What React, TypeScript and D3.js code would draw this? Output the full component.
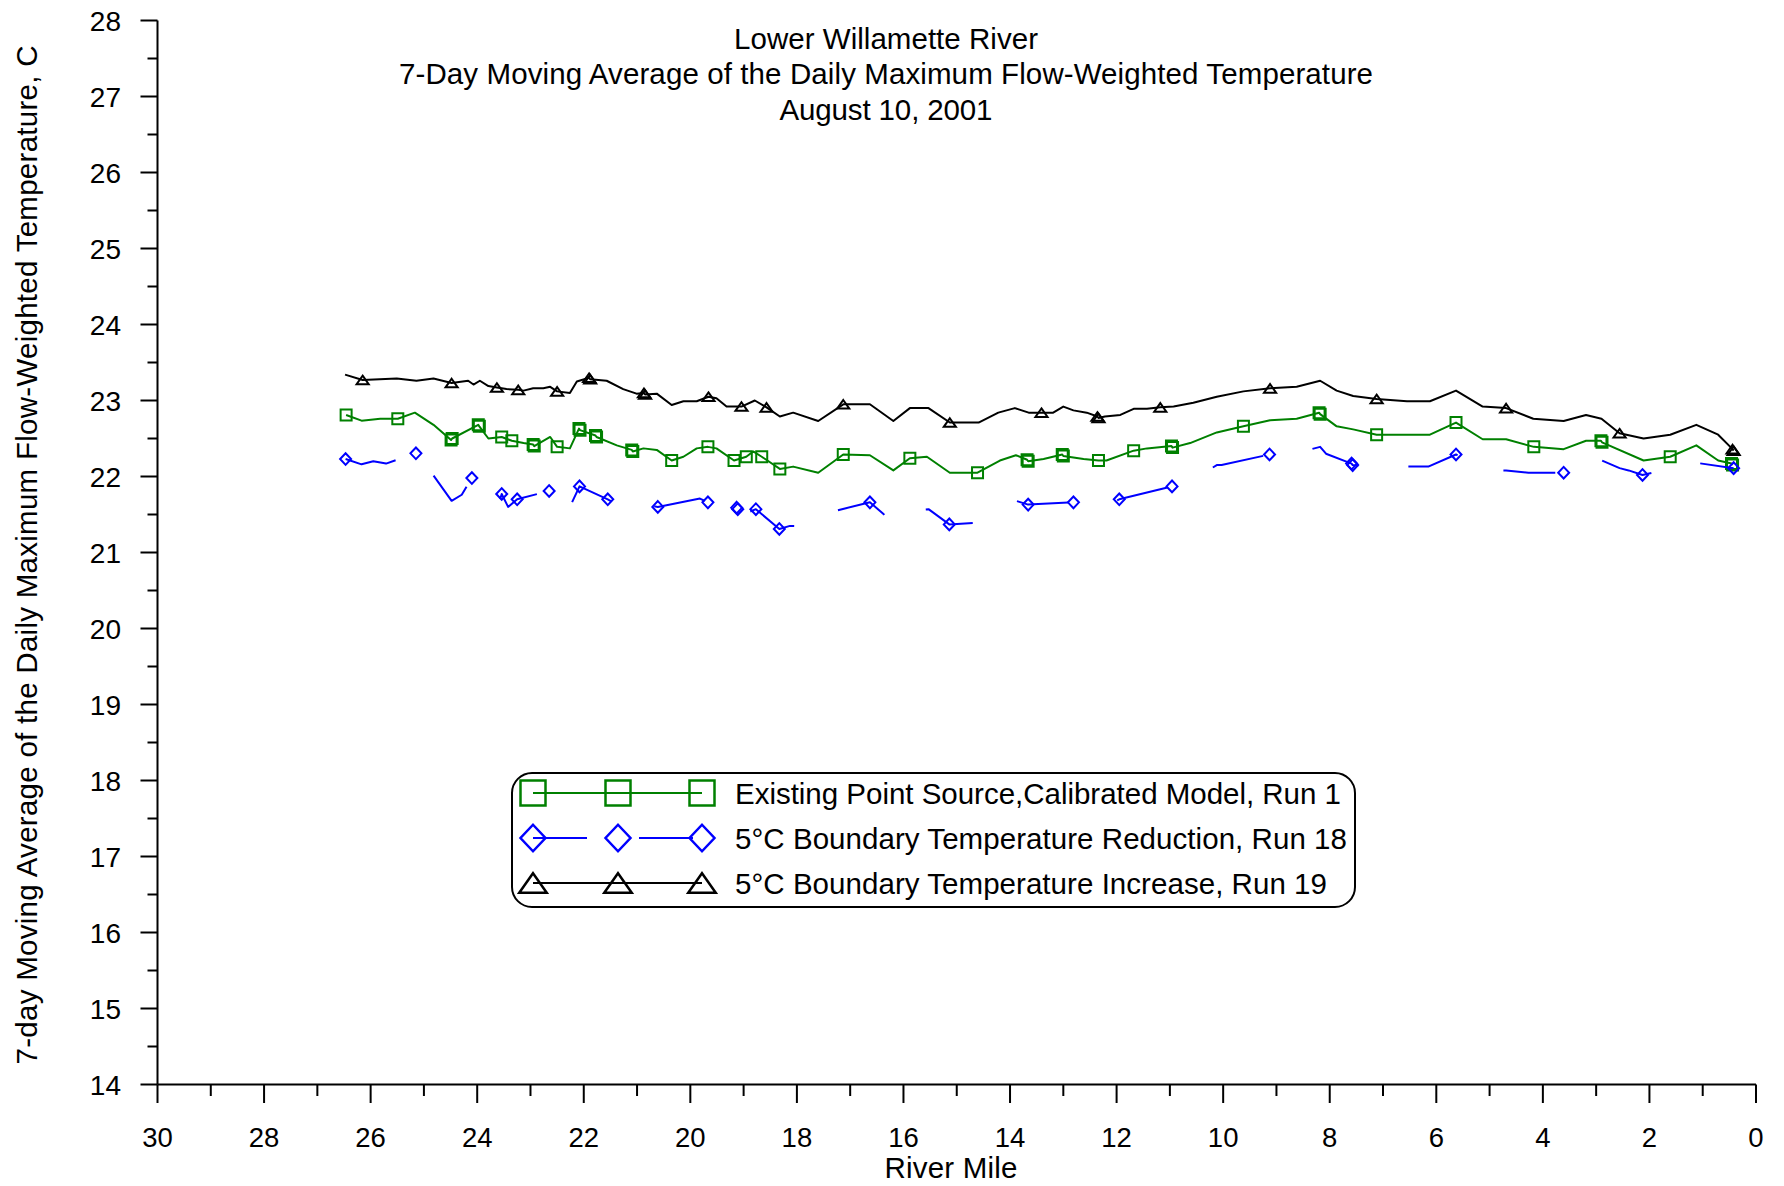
import React from 'react';
import * as d3 from 'd3';

const TITLE_LINES = [
  'Lower Willamette River',
  '7-Day Moving Average of the Daily Maximum Flow-Weighted Temperature',
  'August 10, 2001',
];
const X_LABEL = 'River Mile';
const Y_LABEL = '7-day Moving Average of the Daily Maximum Flow-Weighted Temperature, C';
const X_DOMAIN = [30, 0];
const Y_DOMAIN = [14, 28];
const X_TICKS_MAJOR = [30, 28, 26, 24, 22, 20, 18, 16, 14, 12, 10, 8, 6, 4, 2, 0];
const Y_TICKS_MAJOR = [14, 15, 16, 17, 18, 19, 20, 21, 22, 23, 24, 25, 26, 27, 28];
const LEGEND_LABELS = [
  'Existing Point Source,Calibrated Model, Run 1',
  '5°C Boundary Temperature Reduction, Run 18',
  '5°C Boundary Temperature Increase, Run 19',
];

// [river mile, temperature (C), marker shown (1) or not (0)]
const run1: [number, number, number][] = [
  [26.46, 22.81, 1], [26.17, 22.735, 0], [25.82, 22.76, 0], [25.49, 22.76, 1], [25.17, 22.84, 0],
  [24.82, 22.68, 0], [24.49, 22.48, 1], [24.47, 22.5, 1], [23.98, 22.68, 1], [23.96, 22.66, 1],
  [23.79, 22.5, 0], [23.54, 22.52, 1], [23.35, 22.47, 1], [23.13, 22.44, 0], [22.95, 22.42, 1],
  [22.93, 22.4, 1], [22.63, 22.52, 0], [22.5, 22.39, 1], [22.26, 22.37, 0], [22.09, 22.63, 1],
  [22.07, 22.61, 1], [21.78, 22.54, 1], [21.76, 22.52, 1], [21.38, 22.41, 0], [21.1, 22.35, 1],
  [21.08, 22.33, 1], [20.88, 22.37, 0], [20.63, 22.35, 0], [20.35, 22.21, 1], [20.13, 22.26, 0],
  [19.88, 22.37, 0], [19.67, 22.39, 1], [19.51, 22.37, 0], [19.18, 22.21, 1], [18.95, 22.26, 1],
  [18.82, 22.33, 0], [18.66, 22.26, 1], [18.32, 22.1, 1], [18.07, 22.13, 0], [17.6, 22.05, 0],
  [17.13, 22.29, 1], [16.63, 22.28, 0], [16.19, 22.08, 0], [15.88, 22.24, 1], [15.56, 22.26, 0],
  [15.13, 22.05, 0], [14.61, 22.05, 1], [14.19, 22.21, 0], [13.89, 22.28, 0], [13.68, 22.22, 1],
  [13.66, 22.2, 1], [13.37, 22.23, 0], [13.02, 22.29, 1], [13.0, 22.27, 1], [12.62, 22.23, 0],
  [12.34, 22.21, 1], [12.19, 22.21, 0], [11.68, 22.34, 1], [11.43, 22.37, 0], [10.97, 22.4, 1],
  [10.95, 22.38, 1], [10.62, 22.44, 0], [10.12, 22.58, 0], [9.62, 22.66, 1], [9.12, 22.74, 0],
  [8.62, 22.76, 0], [8.2, 22.84, 1], [8.18, 22.82, 1], [7.87, 22.66, 0], [7.56, 22.62, 0],
  [7.12, 22.55, 1], [6.12, 22.55, 0], [5.63, 22.71, 1], [5.13, 22.49, 0], [4.69, 22.49, 0],
  [4.17, 22.39, 1], [3.61, 22.36, 0], [3.19, 22.47, 0], [2.91, 22.47, 1], [2.89, 22.45, 1],
  [2.11, 22.21, 0], [1.61, 22.26, 1], [1.12, 22.41, 0], [0.71, 22.21, 0], [0.46, 22.17, 1],
  [0.44, 22.15, 1],
];

const run18: [number, number, number][] = [
  [26.47, 22.23, 1], [26.17, 22.16, 0], [25.95, 22.2, 0], [25.71, 22.17, 0], [25.15, 22.305, 1],
  [24.92, 22.11, 0], [24.48, 21.68, 0], [24.29, 21.76, 0], [24.1, 21.98, 1], [23.82, 21.79, 0],
  [23.79, 21.7, 0], [23.57, 21.7, 0], [23.54, 21.77, 1], [23.42, 21.6, 0], [23.25, 21.7, 1],
  [22.65, 21.81, 1], [22.5, 21.58, 0], [22.26, 21.6, 0], [22.08, 21.87, 1], [21.55, 21.7, 1],
  [21.07, 21.51, 0], [20.85, 21.63, 0], [20.61, 21.6, 1], [19.82, 21.71, 0], [19.67, 21.66, 1],
  [19.35, 21.55, 0], [19.13, 21.59, 1], [19.11, 21.57, 1], [18.94, 21.52, 0], [18.77, 21.57, 1],
  [18.33, 21.31, 1], [18.13, 21.35, 0], [17.6, 21.34, 0], [17.27, 21.55, 0], [16.63, 21.66, 1],
  [16.38, 21.51, 0], [16.19, 21.375, 0], [15.88, 21.55, 0], [15.53, 21.57, 0], [15.14, 21.37, 1],
  [14.64, 21.39, 0], [14.19, 21.58, 0], [13.89, 21.68, 0], [13.66, 21.63, 1], [12.81, 21.66, 1],
  [12.37, 21.66, 0], [12.15, 21.63, 0], [11.95, 21.7, 1], [10.96, 21.87, 1], [10.59, 21.95, 0],
  [10.12, 22.15, 0], [10.03, 22.15, 0], [9.13, 22.29, 1], [8.62, 22.31, 0], [8.18, 22.39, 0],
  [8.07, 22.3, 0], [7.59, 22.17, 1], [7.57, 22.15, 1], [7.13, 22.13, 0], [6.15, 22.13, 0],
  [5.63, 22.29, 1], [5.25, 22.13, 0], [5.13, 22.08, 0], [4.69, 22.08, 0], [4.27, 22.05, 0],
  [3.61, 22.05, 1], [3.35, 22.15, 0], [3.19, 22.21, 0], [2.89, 22.21, 0], [2.56, 22.11, 0],
  [2.39, 22.08, 0], [2.13, 22.02, 1], [1.44, 22.13, 0], [1.12, 22.18, 0], [0.42, 22.11, 1],
];

const run19: [number, number, number][] = [
  [26.48, 23.34, 0], [26.15, 23.27, 1], [25.51, 23.29, 0], [25.14, 23.26, 0], [24.82, 23.29, 0],
  [24.48, 23.23, 1], [24.17, 23.26, 0], [24.07, 23.21, 0], [23.95, 23.26, 0], [23.79, 23.19, 0],
  [23.63, 23.17, 1], [23.45, 23.15, 0], [23.23, 23.14, 1], [23.13, 23.13, 0], [22.95, 23.16, 0],
  [22.76, 23.16, 0], [22.63, 23.18, 0], [22.5, 23.12, 1], [22.26, 23.1, 0], [22.13, 23.25, 0],
  [21.9, 23.3, 1], [21.88, 23.28, 1], [21.57, 23.26, 0], [21.26, 23.15, 0], [21.01, 23.09, 0],
  [20.87, 23.1, 1], [20.85, 23.08, 1], [20.63, 23.09, 0], [20.35, 22.94, 0], [20.13, 22.99, 0],
  [19.88, 22.99, 0], [19.66, 23.05, 1], [19.51, 23.03, 0], [19.32, 22.92, 0], [19.04, 22.92, 1],
  [18.79, 23.0, 0], [18.57, 22.91, 1], [18.32, 22.79, 0], [18.07, 22.84, 0], [17.6, 22.73, 0],
  [17.13, 22.95, 1], [16.63, 22.95, 0], [16.19, 22.73, 0], [15.88, 22.9, 0], [15.53, 22.9, 0],
  [15.13, 22.71, 1], [14.59, 22.71, 0], [14.22, 22.84, 0], [13.91, 22.9, 0], [13.65, 22.84, 0],
  [13.41, 22.84, 1], [13.19, 22.84, 0], [13.0, 22.92, 0], [12.81, 22.87, 0], [12.56, 22.84, 0],
  [12.36, 22.79, 1], [12.34, 22.77, 1], [12.22, 22.79, 0], [11.93, 22.81, 0], [11.68, 22.89, 0],
  [11.43, 22.89, 0], [11.18, 22.91, 1], [10.93, 22.92, 0], [10.56, 22.97, 0], [10.12, 23.05, 0],
  [9.62, 23.12, 0], [9.12, 23.16, 1], [8.62, 23.18, 0], [8.18, 23.26, 0], [7.87, 23.13, 0],
  [7.56, 23.06, 0], [7.12, 23.02, 1], [6.55, 22.99, 0], [6.12, 22.99, 0], [5.63, 23.13, 0],
  [5.13, 22.92, 0], [4.69, 22.9, 1], [4.18, 22.76, 0], [3.61, 22.73, 0], [3.19, 22.81, 0],
  [2.9, 22.76, 0], [2.56, 22.57, 1], [2.11, 22.5, 0], [1.61, 22.55, 0], [1.12, 22.68, 0],
  [0.71, 22.55, 0], [0.44, 22.36, 1], [0.42, 22.34, 1],
];

const W = 1784;
const H = 1186;
const PLOT = { left: 157.5, right: 1756, top: 20.5, bottom: 1084.5 };
const FONT = "'Liberation Sans', Arial, Helvetica, sans-serif";

type MarkerKind = 'square' | 'diamond' | 'triangle';

function markerPath(kind: MarkerKind, s: number): string {
  if (kind === 'square') {
    return `M${-s / 2},${-s / 2}h${s}v${s}h${-s}Z`;
  }
  if (kind === 'diamond') {
    const w = s * 0.5;
    const h = s * 0.53;
    return `M0,${-h}L${w},0L0,${h}L${-w},0Z`;
  }
  const w = s * 1.1;
  const h = s * 0.78;
  return `M0,${-h / 2}L${w / 2},${h / 2}L${-w / 2},${h / 2}Z`;
}

const SERIES = [
  { data: run1, color: '#008000', marker: 'square' as MarkerKind, dash: undefined as string | undefined, label: LEGEND_LABELS[0], legendLen: 606 },
  { data: run18, color: '#0000FF', marker: 'diamond' as MarkerKind, dash: '52 50', label: LEGEND_LABELS[1], legendLen: 612 },
  { data: run19, color: '#000000', marker: 'triangle' as MarkerKind, dash: undefined as string | undefined, label: LEGEND_LABELS[2], legendLen: 592 },
];

export default function App() {
  const x = d3.scaleLinear().domain(X_DOMAIN).range([PLOT.left, PLOT.right]);
  const y = d3.scaleLinear().domain(Y_DOMAIN).range([PLOT.bottom, PLOT.top]);
  const line = d3
    .line<[number, number, number]>()
    .x((d) => x(d[0]))
    .y((d) => y(d[1]));

  const xMinor = d3.range(29, 0, -2);
  const yMinor = d3.range(14.5, 28, 1);

  const legend = { x: 512, y: 773, w: 843, h: 134 };
  const legendRows = [793, 838, 883];
  const legendSym = [533, 618, 702];

  return (
    <svg
      width={W}
      height={H}
      viewBox={`0 0 ${W} ${H}`}
      style={{ position: 'absolute', left: 0, top: 0, background: '#fff' }}
      fontFamily={FONT}
    >
      <rect x={0} y={0} width={W} height={H} fill="#fff" />

      {/* Title */}
      {TITLE_LINES.map((t, i) => (
        <text
          key={t}
          x={886}
          y={49 + i * 35.25}
          textAnchor="middle"
          fontSize={29.5}
          textLength={[304, 974, 213][i]}
          lengthAdjust="spacing"
          fill="#000"
        >
          {t}
        </text>
      ))}

      {/* Y axis */}
      <line x1={PLOT.left} x2={PLOT.left} y1={PLOT.top} y2={PLOT.bottom} stroke="#000" strokeWidth={2} />
      {Y_TICKS_MAJOR.map((v) => (
        <g key={`yt${v}`}>
          <line x1={PLOT.left - 17} x2={PLOT.left} y1={y(v)} y2={y(v)} stroke="#000" strokeWidth={2} />
          <text x={121} y={y(v) + 10} textAnchor="end" fontSize={28} fill="#000">
            {v}
          </text>
        </g>
      ))}
      {yMinor.map((v) => (
        <line key={`ym${v}`} x1={PLOT.left - 10} x2={PLOT.left} y1={y(v)} y2={y(v)} stroke="#000" strokeWidth={2} />
      ))}
      <text
        transform={`translate(37,555) rotate(-90)`}
        textAnchor="middle"
        fontSize={29.5}
        textLength={1019}
        lengthAdjust="spacing"
        fill="#000"
      >
        {Y_LABEL}
      </text>

      {/* X axis */}
      <line x1={PLOT.left} x2={PLOT.right} y1={PLOT.bottom} y2={PLOT.bottom} stroke="#000" strokeWidth={2} />
      {X_TICKS_MAJOR.map((v) => (
        <g key={`xt${v}`}>
          <line x1={x(v)} x2={x(v)} y1={PLOT.bottom} y2={PLOT.bottom + 18.5} stroke="#000" strokeWidth={2} />
          <text x={x(v)} y={1147} textAnchor="middle" fontSize={27.5} fill="#000">
            {v}
          </text>
        </g>
      ))}
      {xMinor.map((v) => (
        <line key={`xm${v}`} x1={x(v)} x2={x(v)} y1={PLOT.bottom} y2={PLOT.bottom + 11.5} stroke="#000" strokeWidth={2} />
      ))}
      <text x={951} y={1178} textAnchor="middle" fontSize={29.5} textLength={133} lengthAdjust="spacing" fill="#000">
        {X_LABEL}
      </text>

      {/* Series */}
      {SERIES.map((s, i) => (
        <g key={`s${i}`}>
          <path
            d={line(s.data) || ''}
            fill="none"
            stroke={s.color}
            strokeWidth={2}
            strokeDasharray={s.dash}
            strokeLinejoin="round"
          />
          {s.data
            .filter((d) => d[2] === 1)
            .map((d, j) => (
              <path
                key={j}
                transform={`translate(${x(d[0])},${y(d[1])})`}
                d={markerPath(s.marker, 11)}
                fill="none"
                stroke={s.color}
                strokeWidth={2}
              />
            ))}
        </g>
      ))}

      {/* Legend */}
      <rect
        x={legend.x}
        y={legend.y}
        width={legend.w}
        height={legend.h}
        rx={20}
        ry={20}
        fill="#fff"
        stroke="#000"
        strokeWidth={2}
      />
      {SERIES.map((s, i) => (
        <g key={`lg${i}`}>
          <line
            x1={legendSym[0]}
            x2={legendSym[2]}
            y1={legendRows[i]}
            y2={legendRows[i]}
            stroke={s.color}
            strokeWidth={2}
            strokeDasharray={s.dash ? '54 52' : undefined}
          />
          {legendSym.map((lx) => (
            <path
              key={lx}
              transform={`translate(${lx},${legendRows[i]})`}
              d={markerPath(s.marker, 25)}
              fill="none"
              stroke={s.color}
              strokeWidth={2.5}
            />
          ))}
          <text
            x={735}
            y={legendRows[i] + 10.5}
            fontSize={29.5}
            textLength={s.legendLen}
            lengthAdjust="spacing"
            fill="#000"
          >
            {s.label}
          </text>
        </g>
      ))}
    </svg>
  );
}
